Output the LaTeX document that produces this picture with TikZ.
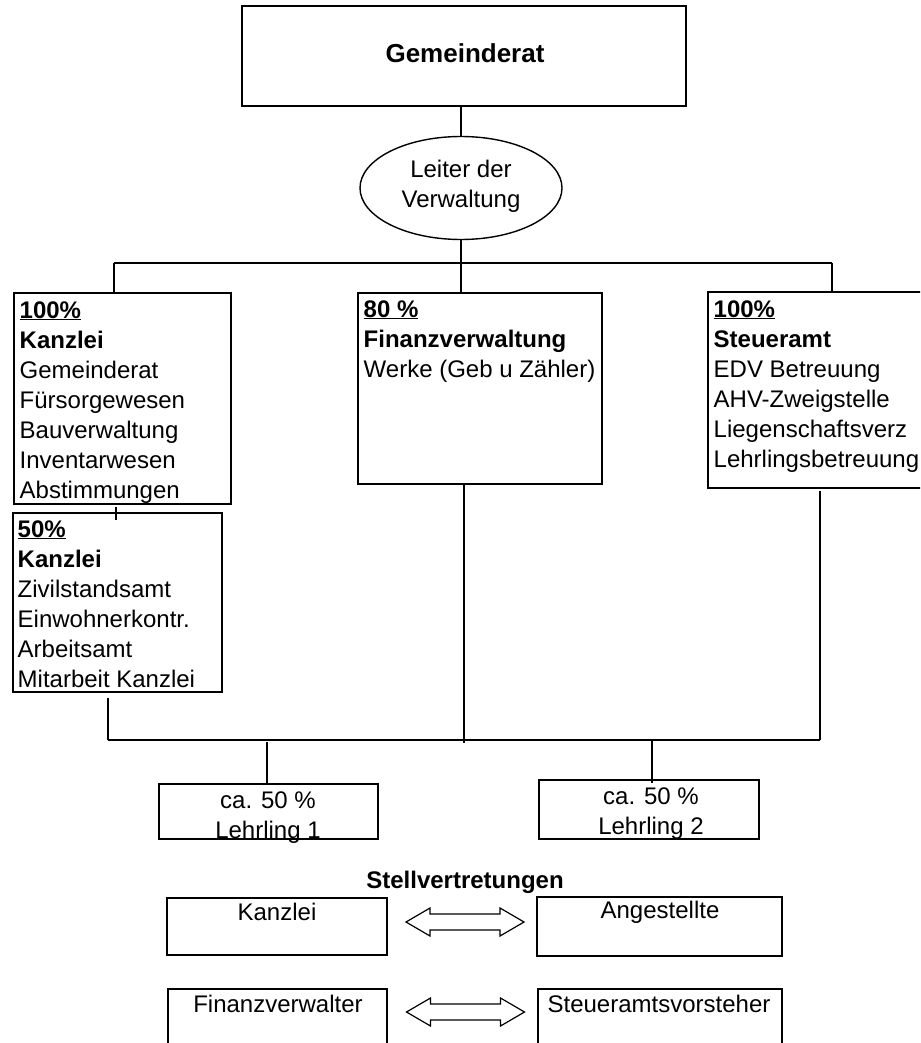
\documentclass[tikz,border=0pt]{standalone}
\usepackage{fontspec}
\setmainfont{Liberation Sans}
\usetikzlibrary{shapes.geometric,calc}
\begin{document}
\begin{tikzpicture}[x=1pt,y=-1pt,line width=1.4pt,
  box/.style={draw,rectangle,inner sep=0pt},
  txt/.style={inner sep=0pt,font=\fontsize{24}{30}\selectfont},
  conn/.style={draw,line width=1.4pt},
  dblarrow/.pic={\draw[line width=1.2pt,fill=white] (-59,0) -- (-35,-14) -- (-35,-8) -- (35,-8) -- (35,-14) -- (59,0) -- (35,14) -- (35,8) -- (-35,8) -- (-35,14) -- cycle;}]
\useasboundingbox (0,0) rectangle (920,1043);
\fill[white] (0,0) rectangle (920,1043);
\clip (0,0) rectangle (920,1043);

% top
\node[box,minimum width=444pt,minimum height=100pt] (gr) at (464,56) {};
\node[txt,font=\fontsize{26}{30}\selectfont\bfseries,anchor=base] (grt) at (465,63) {Gemeinderat};
\node[draw,ellipse,minimum width=202pt,minimum height=103pt,inner sep=0pt] (lv) at (461,188) {};
\node[txt,align=center] (lvt) at (461,186) {Leiter der\\Verwaltung};

% level boxes
\node[box,minimum width=217pt,minimum height=211pt] (kan1) at (122.5,398.5) {};
\node[txt,anchor=base west] (kan1t) at (19,318) {\begin{tabular}[t]{@{}l@{}}\underline{\textbf{100\%}}\\\textbf{Kanzlei}\\Gemeinderat\\Fürsorgewesen\\Bauverwaltung\\Inventarwesen\\Abstimmungen\end{tabular}};
\node[box,minimum width=209pt,minimum height=179pt] (kan2) at (117.5,602.5) {};
\node[txt,anchor=base west] (kan2t) at (17,537) {\begin{tabular}[t]{@{}l@{}}\underline{\textbf{50\%}}\\\textbf{Kanzlei}\\Zivilstandsamt\\Einwohnerkontr.\\Arbeitsamt\\Mitarbeit Kanzlei\end{tabular}};
\node[box,minimum width=244pt,minimum height=191pt] (fin) at (480,388.5) {};
\node[txt,anchor=base west] (fint) at (363,317) {\begin{tabular}[t]{@{}l@{}}\underline{\textbf{80 \%}}\\\textbf{Finanzverwaltung}\\Werke (Geb u Zähler)\end{tabular}};
\node[box,minimum width=227pt,minimum height=196pt] (steu) at (821.5,390) {};
\node[txt,anchor=base west] (steut) at (713,317) {\begin{tabular}[t]{@{}l@{}}\underline{\textbf{100\%}}\\\textbf{Steueramt}\\EDV Betreuung\\AHV-Zweigstelle\\Liegenschaftsverz\\Lehrlingsbetreuung\end{tabular}};

% apprentices
\node[box,minimum width=219pt,minimum height=55pt] (leh1) at (268.5,811.5) {};
\node[txt,anchor=base] (leh1t) at (268,808) {\begin{tabular}[t]{@{}c@{}}ca. 50 \%\\Lehrling 1\end{tabular}};
\node[box,minimum width=220pt,minimum height=59pt] (leh2) at (649,809.5) {};
\node[txt,anchor=base] (leh2t) at (651,804) {\begin{tabular}[t]{@{}c@{}}ca. 50 \%\\Lehrling 2\end{tabular}};

% deputies
\node[txt,font=\fontsize{24}{30}\selectfont\bfseries,anchor=base] (sv) at (465,888) {Stellvertretungen};
\node[box,minimum width=220pt,minimum height=57pt] (sk) at (277,926.5) {};
\node[txt,anchor=base] (skt) at (277,920) {Kanzlei};
\node[box,minimum width=245pt,minimum height=59pt] (sa) at (659.5,926.5) {};
\node[txt,anchor=base] (sat) at (660,918) {Angestellte};
\node[box,minimum width=219pt,minimum height=100pt] (sf) at (277.5,1039) {};
\node[txt,anchor=base] (sft) at (278,1012) {Finanzverwalter};
\node[box,minimum width=244pt,minimum height=100pt] (ss) at (660,1039) {};
\node[txt,anchor=base] (sst) at (659,1012) {Steueramtsvorsteher};
\pic (a1) at (465,922) {dblarrow};
\pic (a2) at (465.5,1012) {dblarrow};

% connectors
\coordinate (j1) at (114,263);
\coordinate (j3) at (832,263);
\coordinate (tk) at (116,0);
\coordinate (b1) at (108,740);
\coordinate (b3) at (820,740);
\coordinate (bm) at (464,740);
\coordinate (l1) at (267,740);
\coordinate (l2) at (652,740);
\draw[conn] (lv.north |- gr.south) -- (lv.north);
\draw[conn] (lv.south) -- (lv.south |- j1);
\draw[conn] (j1) -- (j3);
\draw[conn] (j1) -- (j1 |- kan1.north);
\draw[conn] (lv.south |- j1) -- (lv.south |- fin.north);
\draw[conn] (j3) -- (j3 |- steu.north);
\draw[conn] ($(tk |- kan1.south)+(0,2)$) -- ($(tk |- kan2.north)+(0,8)$);
\draw[conn] ($(b1 |- kan2.south)+(0,5)$) -- (b1);
\draw[conn] (bm |- fin.south) -- ($(bm)+(0,3)$);
\draw[conn] ($(b3 |- steu.south)+(0,2)$) -- (b3);
\draw[conn] (b1) -- (b3);
\draw[conn] ($(l1)+(0,2)$) -- (l1 |- leh1.north);
\draw[conn] (l2) -- ($(l2 |- leh2.north)+(0,4)$);
\end{tikzpicture}
\end{document}
